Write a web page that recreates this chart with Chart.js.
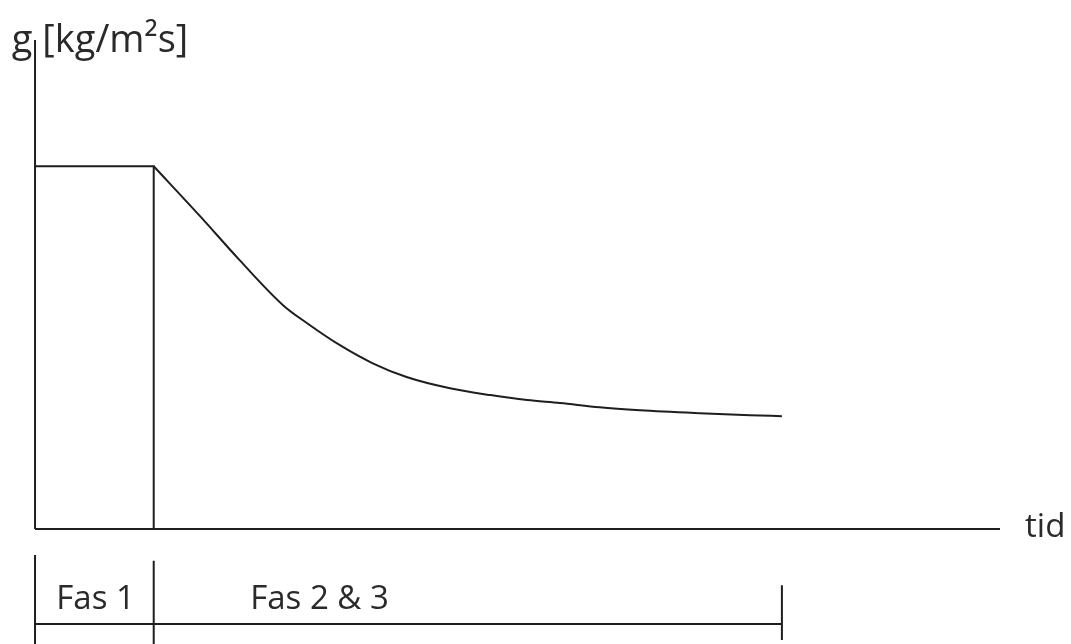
<!DOCTYPE html>
<html>
<head>
<meta charset="utf-8">
<title>g över tid</title>
<script src="https://cdn.jsdelivr.net/npm/chart.js@4.4.0/dist/chart.umd.min.js"></script>
<style>
  html, body { margin: 0; padding: 0; background: #ffffff; }
  #wrap { width: 1071px; height: 644px; }
</style>
</head>
<body>
<div id="wrap"><canvas id="sketch" width="1071" height="644"></canvas></div>
<script>
// time in arbitrary units (axis 0..100), g in arbitrary units (axis 0..100)
var axisX = [0, 100];
var axisY = [0, 100];

// fas 1: constant rate
var fas1_t = [0, 12.3, 12.3];
var fas1_g = [74.2, 74.2, 0];

// fas 2 & 3: falling rate
var curve_t = [12.3, 17.1, 21.2, 25.7, 28.2, 31.6, 35.0, 38.5, 43.0, 47.2, 51.0, 54.4, 58.5, 62.7, 68.9, 74.1, 77.4];
var curve_g = [74.2, 64.0, 55.0, 45.8, 42.1, 37.6, 33.9, 31.1, 28.8, 27.4, 26.4, 25.8, 24.9, 24.3, 23.7, 23.3, 23.1];

// phase bracket under the time axis
var phaseEdges = [0, 12.3, 77.4];
var phaseTop = [-5.3, -6.5, -11.5];
var phaseBottom = [-23.5, -23.5, -22.7];
var phaseLineG = -19.4;
var phaseLabels = ['Fas 1', 'Fas 2 & 3'];
var phaseLabelT = [2.2, 22.3];

var yTitle = 'g [kg/m²s]';
var xTitle = 'tid';

var INK = '#1e1e1e';

function pts(xs, ys) {
   return xs.map(function (x, i) { return {x: x, y: ys[i]}; });
}

function seg(x1, y1, x2, y2) {
   return [{x: x1, y: y1}, {x: x2, y: y2}];
}

function lineSet(data, extra) {
   var ds = {
      data: data,
      showLine: true,
      borderColor: INK,
      borderWidth: 2,
      pointRadius: 0,
      fill: false,
      tension: 0,
      clip: false
   };
   for (var k in extra) { ds[k] = extra[k]; }
   return ds;
}

var datasets = [
   lineSet(seg(axisX[0], 0, axisX[1], 0)),
   lineSet(seg(0, axisY[0], 0, axisY[1])),
   lineSet(pts(fas1_t, fas1_g)),
   lineSet(pts(curve_t, curve_g), {cubicInterpolationMode: 'monotone'}),
   lineSet(seg(phaseEdges[0], phaseLineG, phaseEdges[2], phaseLineG))
];
phaseEdges.forEach(function (t, i) {
   datasets.push(lineSet(seg(t, phaseTop[i], t, phaseBottom[i])));
});

// helper: g value for a row of the original sketch
function revG(py) { return (529 - py) / 4.89; }

// texts placed through the scales
var labelPlugin = {
   id: 'sketchLabels',
   afterDatasetsDraw: function (chart) {
      var ctx = chart.ctx;
      var sx = chart.scales.x;
      var sy = chart.scales.y;
      ctx.save();
      ctx.fillStyle = '#2a2a2a';
      ctx.textBaseline = 'alphabetic';
      ctx.textAlign = 'left';

      ctx.font = '38px "Open Sans"';
      ctx.fillText(yTitle, sx.getPixelForValue(-2.4), sy.getPixelForValue(revG(52)));

      ctx.font = '33px "Open Sans"';
      ctx.fillText(xTitle, sx.getPixelForValue(102.6), sy.getPixelForValue(revG(537)));

      ctx.font = '33px "Open Sans"';
      phaseLabels.forEach(function (txt, i) {
         ctx.fillText(txt, sx.getPixelForValue(phaseLabelT[i]), sy.getPixelForValue(revG(609)));
      });
      ctx.restore();
   }
};

var ctx = document.getElementById('sketch').getContext('2d');
var sketch = new Chart(ctx, {
   type: 'scatter',
   data: { datasets: datasets },
   options: {
      responsive: false,
      animation: false,
      layout: { padding: 0 },
      plugins: {
         legend: { display: false },
         tooltip: { enabled: false },
         title: { display: false }
      },
      scales: {
         x: { type: 'linear', display: false, min: -3.63, max: 107.36 },
         y: { type: 'linear', display: false, min: -23.5, max: 108.2 }
      }
   },
   plugins: [labelPlugin]
});
</script>
</body>
</html>
